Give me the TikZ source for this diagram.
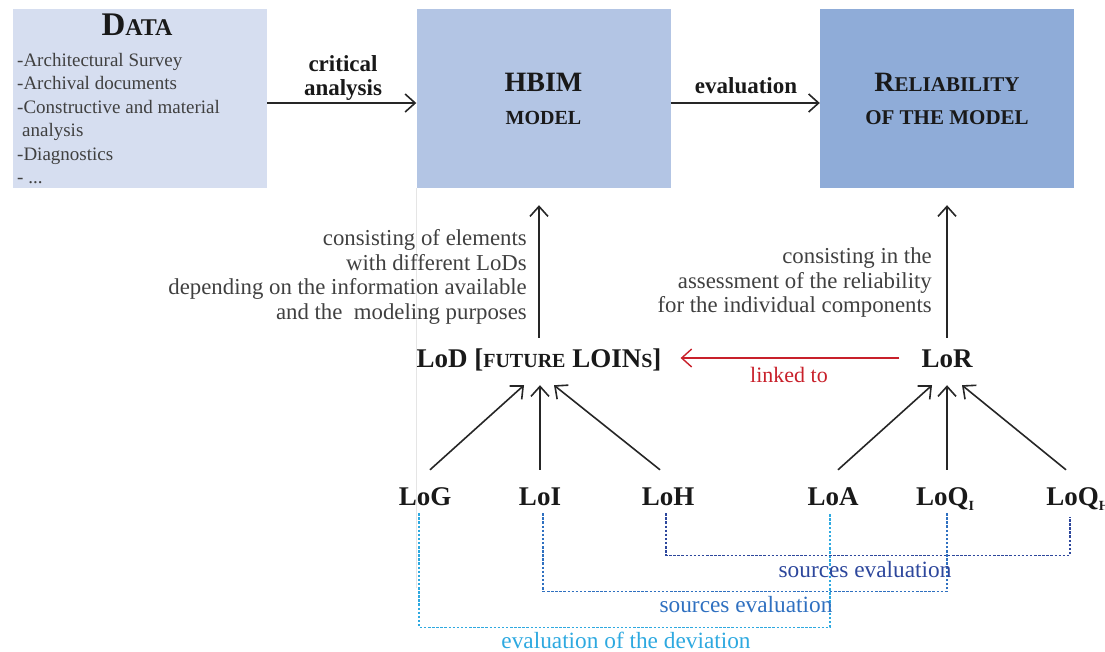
\documentclass[tikz,border=0pt]{standalone}
\usepackage{fontspec}
\setmainfont{Liberation Serif}
\definecolor{databg}{HTML}{D6DEF0}
\definecolor{hbimbg}{HTML}{B3C5E4}
\definecolor{relbg}{HTML}{8FACD8}
\definecolor{inkgray}{HTML}{404040}
\definecolor{linkred}{HTML}{C8202A}
\definecolor{srcnavy}{HTML}{2D479C}
\definecolor{srcblue}{HTML}{2F70C0}
\definecolor{devcyan}{HTML}{2EA9E0}
\usetikzlibrary{arrows.meta,calc}
\newcommand{\fs}[2]{{\fontsize{#1}{#1}\selectfont #2}}
\newcommand{\lsub}[1]{\raisebox{-5pt}{\fs{14}{#1}}}

\begin{document}
\begin{tikzpicture}[x=1pt,y=-1pt,
    box/.style={inner sep=0pt,minimum width=254pt,minimum height=179pt,align=center},
    arr/.style={-{Straight Barb[length=10pt,width=18pt]},line width=1.6pt,black!85},
    redarr/.style={-{Straight Barb[length=10pt,width=18pt]},line width=1.4pt,linkred},
    lvl/.style={font=\fontsize{27}{27}\selectfont\bfseries,text=black!90,text height=19pt,text depth=5pt,inner sep=0pt},
    note/.style={font=\fontsize{22.8}{24.5}\selectfont,text=inkgray,align=right,anchor=east,inner sep=0pt},
    srctext/.style={font=\fontsize{23.3}{23.3}\selectfont},
    src/.style={line width=1.4pt,dash pattern=on 2.5pt off 1.6pt}]
    \useasboundingbox (0,0) rectangle (1105,651);
    \node[box,fill=databg] (data) at (140,98.5) {};
    \node[font=\bfseries\fontsize{33}{33}\selectfont,text=black!90] (datatitle) at (137,25) {D\fs{24}{ATA}};
    \node[anchor=north west,align=left,font=\fontsize{19}{23.5}\selectfont,text=inkgray,inner sep=0pt] (datalist) at (17,53)
        {-Architectural Survey\\-Archival documents\\-Constructive and material\\\hspace*{5pt}analysis\\-Diagnostics\\- ...};
    \node[box,fill=hbimbg,font=\bfseries\fontsize{28}{33}\selectfont,text=black!90] (hbim) at (543.5,98.5) {HBIM\\\fs{20}{MODEL}};
    \node[box,fill=relbg,font=\bfseries\fontsize{28}{33}\selectfont,text=black!90] (rel) at (947,98.5) {R\fs{21}{ELIABILITY}\\\fs{21}{OF THE MODEL}};
    \draw[black!10,line width=0.8pt] (hbim.south west) -- ++(0,400);
    \draw[arr] ([yshift=-4.5pt]data.east) -- ([yshift=-4.5pt]hbim.west);
    \draw[arr] ([yshift=-4.5pt]hbim.east) -- ([yshift=-4.5pt]rel.west);
    \node[font=\bfseries\fontsize{23}{24}\selectfont,align=center,text=black!90] (critical) at (343,78) {critical\\analysis};
    \node[font=\bfseries\fontsize{23}{24}\selectfont,text=black!90] (evaluation) at (746,86) {evaluation};
    \node[lvl] (lod) at (539,360) {LoD [\fs{20}{FUTURE} LOIN\fs{20}{S}]};
    \node[lvl] (lor) at (947,360) {LoR};
    \draw[arr] ($(lod.north)+(0,-10)$) -- ($(lod.north|-hbim.south)+(0,17)$);
    \draw[arr] ($(lor.north)+(0,-10)$) -- ($(lor.north|-rel.south)+(0,17)$);
    \node[note] (hbimnote) at (527,277) {consisting of elements\\with different LoDs\\depending on the information available\\and the\ \ modeling purposes};
    \node[note] (relnote) at (932,283) {consisting in the\\assessment of the reliability\\for the individual components};
    \draw[redarr] ($(lor.west)+(-22,-2)$) -- ($(lod.east)+(19,-2)$);
    \node[text=linkred,font=\fontsize{22}{22}\selectfont] (linked) at (789,375) {linked to};
    \node[lvl] (log) at (425,498) {LoG};
    \node[lvl] (loi) at (540,498) {LoI};
    \node[lvl] (loh) at (668,498) {LoH};
    \node[lvl] (loa) at (833,498) {LoA};
    \node[lvl] (loqi) at (945,498) {LoQ\lsub{I}};
    \node[lvl] (loqh) at (1078,498) {LoQ\lsub{H}};
    \draw[arr] ($(log.north)+(5,-16)$) -- ($(lod.south)+(-15,13)$);
    \draw[arr] ($(loi.north)+(0,-16)$) -- ($(loi.north|-lod.south)+(0,13)$);
    \draw[arr] ($(loh.north)+(-8,-16)$) -- ($(lod.south)+(15,13)$);
    \draw[arr] ($(loa.north)+(5,-16)$) -- ($(lor.south)+(-15,13)$);
    \draw[arr] ($(lor.south|-loqi.north)+(0,-16)$) -- ($(lor.south)+(0,13)$);
    \draw[arr] ($(loqh.north)+(-12,-16)$) -- ($(lor.south)+(15,13)$);
    \draw[src,devcyan] ($(log.south)+(-6,3)$) -- ++(0,114) -| ($(loa.south)+(-3,3)$);
    \draw[src,srcblue] ($(loi.south)+(3,3)$) -- ++(0,78) -| ($(loqi.south)+(2,3)$);
    \draw[src,srcnavy] ($(loh.south)+(-2,3)$) -- ++(0,42) -| ($(loqh.south)+(-8,7)$);
    \node[text=srcnavy,srctext] (srcnote) at (865,570) {sources evaluation};
    \node[text=srcblue,srctext] (srcnote2) at (746,605) {sources evaluation};
    \node[text=devcyan,srctext] (devnote) at (626,640) {evaluation of the deviation};
\end{tikzpicture}
\end{document}
